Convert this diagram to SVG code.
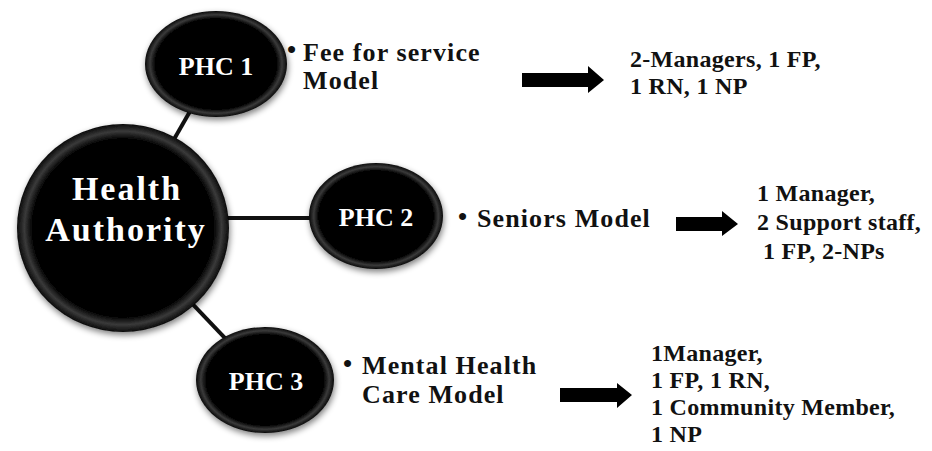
<svg xmlns="http://www.w3.org/2000/svg" width="932" height="451" viewBox="0 0 932 451">
<defs>
<radialGradient id="ball" cx="50%" cy="50%" r="50%">
<stop offset="0" stop-color="#000"/>
<stop offset="0.86" stop-color="#050505"/>
<stop offset="0.93" stop-color="#3a3a3a"/>
<stop offset="1" stop-color="#0a0a0a"/>
</radialGradient>
<filter id="sh" x="-20%" y="-20%" width="140%" height="140%">
<feGaussianBlur in="SourceAlpha" stdDeviation="3"/>
<feOffset dx="1" dy="3"/>
<feComponentTransfer><feFuncA type="linear" slope="0.5"/></feComponentTransfer>
<feMerge><feMergeNode/><feMergeNode in="SourceGraphic"/></feMerge>
</filter>
</defs>
<style>
.node ellipse{fill:url(#ball);filter:url(#sh)}
.lbl{font-family:"Liberation Serif","Times New Roman",serif;font-weight:bold;fill:#fff;text-anchor:middle}
.t{font-family:"Liberation Serif","Times New Roman",serif;font-weight:bold;fill:#111;font-size:26px;letter-spacing:1.1px}
.s{font-family:"Liberation Serif","Times New Roman",serif;font-weight:bold;fill:#111;font-size:24px;letter-spacing:0.3px}
.conn line{stroke:#111;stroke-width:4}
.arr{fill:#000}
</style>
<rect width="932" height="451" fill="#fff"/>
<g id="connectors" class="conn">
<line x1="122" y1="230" x2="216" y2="66"/>
<line x1="122" y1="218" x2="376" y2="218"/>
<line x1="122" y1="230" x2="265" y2="380"/>
</g>
<g id="health-authority" class="node">
<ellipse cx="123" cy="228" rx="106" ry="104"/>
<text class="lbl" x="127" y="200" font-size="34" letter-spacing="2">Health</text>
<text class="lbl" x="126" y="241" font-size="34" letter-spacing="2">Authority</text>
</g>
<g id="phc1" class="node">
<ellipse cx="216" cy="64" rx="71" ry="53"/>
<text class="lbl" x="216" y="75" font-size="26">PHC 1</text>
</g>
<g id="phc2" class="node">
<ellipse cx="376" cy="216" rx="67" ry="53"/>
<text class="lbl" x="376" y="226" font-size="26">PHC 2</text>
</g>
<g id="phc3" class="node">
<ellipse cx="265" cy="380" rx="69" ry="53"/>
<text class="lbl" x="266" y="390" font-size="26">PHC 3</text>
</g>
<g id="model1">
<text class="t" x="287" y="58" font-size="22">•</text>
<text class="t" x="303" y="61" font-size="25" letter-spacing="1.3">Fee for service</text>
<text class="t" x="303" y="89" font-size="25" letter-spacing="1.3">Model</text>
</g>
<g id="model2">
<text class="t" x="458" y="225" font-size="22">•</text>
<text class="t" x="477" y="227">Seniors Model</text>
</g>
<g id="model3">
<text class="t" x="343" y="372" font-size="22">•</text>
<text class="t" x="362" y="374">Mental Health</text>
<text class="t" x="362" y="403">Care Model</text>
</g>
<g id="arrows">
<path class="arr" d="M522,73 H588 V66 L604,80 L588,93 V87 H522 Z"/>
<path class="arr" d="M676,217 H722 V211 L738,224 L722,236 V231 H676 Z"/>
<path class="arr" d="M560,388 H617 V383 L632,395 L617,408 V402 H560 Z"/>
</g>
<g id="staff1">
<text class="s" x="630" y="67">2-Managers, 1 FP,</text>
<text class="s" x="630" y="94">1 RN, 1 NP</text>
</g>
<g id="staff2">
<text class="s" x="757" y="201">1 Manager,</text>
<text class="s" x="757" y="230">2 Support staff,</text>
<text class="s" x="763" y="259">1 FP, 2-NPs</text>
</g>
<g id="staff3">
<text class="s" x="651" y="361">1Manager,</text>
<text class="s" x="651" y="388">1 FP, 1 RN,</text>
<text class="s" x="651" y="415">1 Community Member,</text>
<text class="s" x="651" y="442">1 NP</text>
</g>
</svg>
